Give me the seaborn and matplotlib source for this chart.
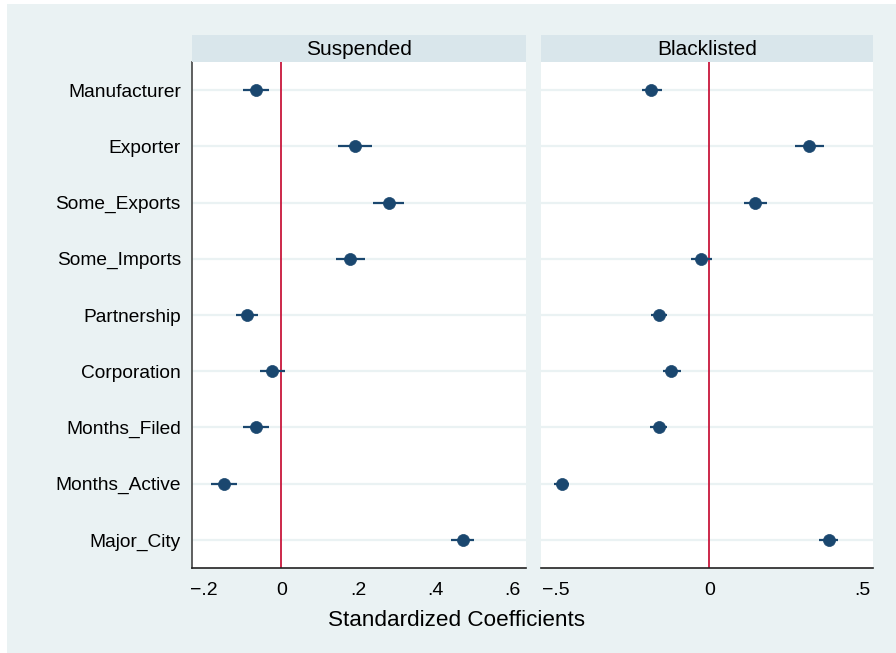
import matplotlib
matplotlib.use("Agg")
import matplotlib.pyplot as plt
import seaborn as sns
import pandas as pd
from matplotlib.patches import Rectangle

variables = ["Manufacturer", "Exporter", "Some_Exports", "Some_Imports", "Partnership",
             "Corporation", "Months_Filed", "Months_Active", "Major_City"]

susp_coef = [-0.065, 0.190, 0.278, 0.177, -0.088, -0.023, -0.065, -0.148, 0.470]
susp_lo = [-0.099, 0.148, 0.239, 0.143, -0.117, -0.055, -0.099, -0.182, 0.440]
susp_hi = [-0.031, 0.234, 0.319, 0.216, -0.060, 0.010, -0.031, -0.114, 0.500]

black_coef = [-0.189, 0.326, 0.150, -0.026, -0.163, -0.124, -0.166, -0.482, 0.388]
black_lo = [-0.221, 0.278, 0.114, -0.059, -0.192, -0.153, -0.195, -0.507, 0.357]
black_hi = [-0.156, 0.372, 0.189, 0.007, -0.137, -0.094, -0.137, -0.458, 0.419]

panels = ["Suspended", "Blacklisted"]
xticks_s = [-0.2, 0, 0.2, 0.4, 0.6]
xticklabels_s = ["\u2212.2", "0", ".2", ".4", ".6"]
xticks_b = [-0.5, 0, 0.5]
xticklabels_b = ["\u2212.5", "0", ".5"]

sns.set_style("white")
plt.rcParams["font.family"] = ["Liberation Sans", "DejaVu Sans"]
plt.rcParams["text.color"] = "black"
plt.rcParams["xtick.labelcolor"] = "black"
plt.rcParams["ytick.labelcolor"] = "black"

W, H = 896, 653
fig = plt.figure(figsize=(W / 100, H / 100), dpi=100)
fig.patch.set_facecolor("white")
fig.add_artist(Rectangle((7 / W, 0), 1 - 7 / W, 1 - 4 / H, transform=fig.transFigure,
                         facecolor="#eaf2f3", edgecolor="none", zorder=-10))

navy = "#1a476f"
red = "#c8173c"
strip = "#d9e6eb"

specs = [
    (panels[0], susp_coef, susp_lo, susp_hi, 192, 526, (-0.231, 0.634), xticks_s, xticklabels_s),
    (panels[1], black_coef, black_lo, black_hi, 541, 873, (-0.549, 0.533), xticks_b, xticklabels_b),
]

top_px, bot_px, strip_top = 62, 568, 35
for i, (name, coef, lo, hi, x0, x1, xl, xt, xtl) in enumerate(specs):
    ax = fig.add_axes([x0 / W, 1 - bot_px / H, (x1 - x0) / W, (bot_px - top_px) / H])
    ax.set_facecolor("white")
    df = pd.DataFrame({"var": variables, "coef": coef, "lo": lo, "hi": hi})
    df["pos"] = range(len(variables))
    for y in df["pos"]:
        ax.axhline(y, color="#eaf2f3", lw=1.6, zorder=0)
    ax.axvline(0, color=red, lw=1.3, zorder=1)
    ax.hlines(df["pos"], df["lo"], df["hi"], color=navy, lw=1.6, zorder=2)
    sns.scatterplot(data=df, x="coef", y="pos", ax=ax, color=navy, s=75,
                    edgecolor=navy, linewidth=0.5, zorder=3, legend=False)
    ax.set_xlim(*xl)
    ax.set_ylim(len(variables) - 0.5, -0.5)
    ax.set_xticks(xt)
    ax.set_xticklabels(xtl, fontsize=14, color="black")
    ax.set_xlabel("")
    ax.set_ylabel("")
    ax.set_yticks(list(df["pos"]))
    if i == 0:
        ax.set_yticklabels(variables, fontsize=13.8, color="black")
        ax.tick_params(axis="y", length=6, width=1, color="#333333", pad=2)
    else:
        ax.set_yticklabels([])
        ax.tick_params(axis="y", length=0)
    ax.tick_params(axis="x", length=6, width=1, color="#333333", pad=4)
    for s in ["top", "right"]:
        ax.spines[s].set_visible(False)
    ax.spines["left"].set_visible(i == 0)
    ax.spines["left"].set_color("#444444")
    ax.spines["bottom"].set_color("#222222")
    ax.spines["left"].set_linewidth(1.2)
    ax.spines["bottom"].set_linewidth(1.2)

    sax = fig.add_axes([x0 / W, 1 - top_px / H, (x1 - x0) / W, (top_px - strip_top) / H])
    sax.set_facecolor(strip)
    sax.set_xticks([])
    sax.set_yticks([])
    for s in sax.spines.values():
        s.set_visible(False)
    sax.text(0.5, 0.45, name, ha="center", va="center", fontsize=15, color="black",
             transform=sax.transAxes)

fig.text(457 / W, 1 - 620 / H, "Standardized Coefficients", ha="center", va="center",
         fontsize=16.2, color="black")

fig.savefig("out.png", dpi=100, facecolor=fig.get_facecolor())
